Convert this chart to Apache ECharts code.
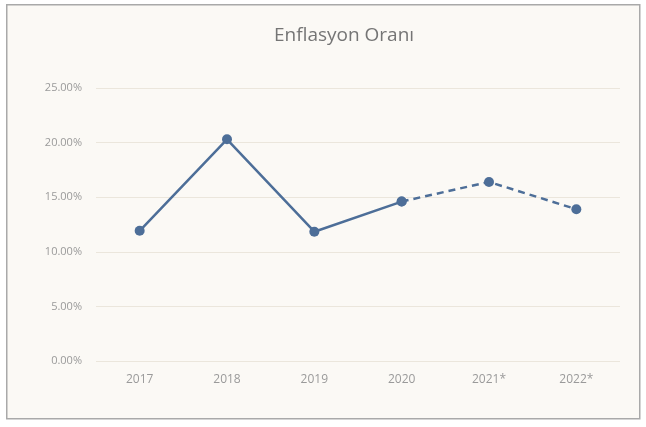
<!DOCTYPE html>
<html><head><meta charset="utf-8">
<script src="https://cdn.jsdelivr.net/npm/echarts@6/dist/echarts.min.js"></script>
<style>html,body{margin:0;padding:0;background:#ffffff;}#c{width:646px;height:427px;}</style>
</head><body><div id="c"></div>
<script>
const categories = ['2017', '2018', '2019', '2020', '2021*', '2022*'];
const actualValues = [11.92, 20.3, 11.84, 14.6, null, null];
const forecastValues = [null, null, null, 14.6, 16.4, 13.9];
const yTicks = [0, 5, 10, 15, 20, 25];

const chart = echarts.init(document.getElementById('c'));
chart.setOption({
  backgroundColor: '#ffffff',
  graphic: [{
    type: 'rect', left: 6, top: 4, z: -10,
    shape: { width: 633, height: 414 },
    style: { fill: '#fbf9f5', stroke: '#a9a9a9', lineWidth: 1.5 }
  }],
  title: {
    text: 'Enflasyon Oranı', left: 269, top: 21,
    textStyle: { fontFamily: 'Open Sans', fontWeight: 'normal', fontSize: 19, color: '#757575' }
  },
  grid: { left: 96, right: 26, top: 88, bottom: 66 },
  xAxis: {
    type: 'category', data: categories, boundaryGap: true,
    axisLine: { show: false }, axisTick: { show: false },
    axisLabel: { color: '#9a9a9a', fontSize: 12, fontFamily: 'Open Sans', margin: 13 }
  },
  yAxis: {
    type: 'value', min: yTicks[0], max: yTicks[yTicks.length - 1], interval: 5,
    axisLine: { show: false }, axisTick: { show: false },
    axisLabel: { color: '#9a9a9a', fontSize: 11, fontFamily: 'Open Sans', margin: 14,
      formatter: v => v.toFixed(2) + '%' },
    splitLine: { lineStyle: { color: '#ebe6dc', width: 1 } }
  },
  series: [
    { type: 'line', data: actualValues, symbol: 'circle', symbolSize: 10,
      lineStyle: { color: '#4d6e98', width: 2.5 }, itemStyle: { color: '#4d6e98' } },
    { type: 'line', data: forecastValues, symbol: 'circle', symbolSize: 10,
      lineStyle: { color: '#4d6e98', width: 2.5, type: [7, 5] }, itemStyle: { color: '#4d6e98' } }
  ]
});
</script></body></html>
